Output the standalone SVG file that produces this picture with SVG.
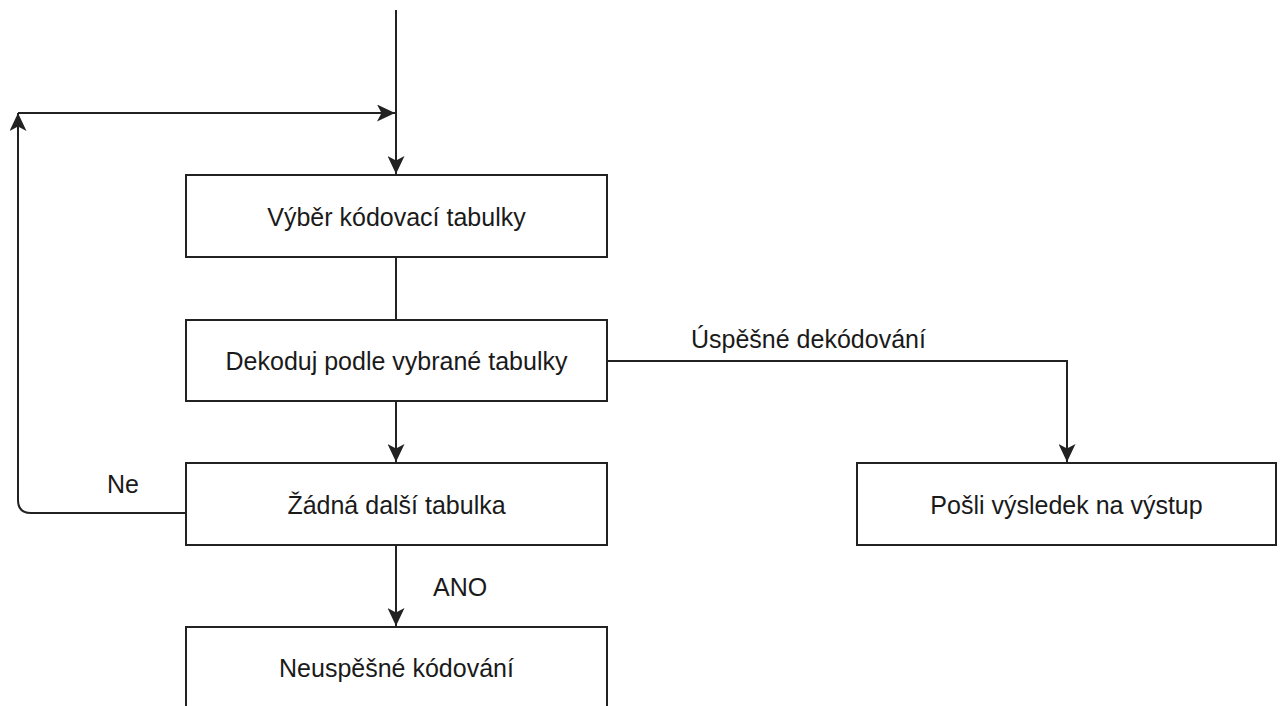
<svg xmlns="http://www.w3.org/2000/svg" width="1282" height="706" viewBox="0 0 1282 706">
<style>
.box{fill:#fff;stroke:#222;stroke-width:2}
.edge{fill:none;stroke:#222;stroke-width:2}
.t{font-family:"Liberation Sans",Arial,sans-serif;font-size:25px;fill:#1a1a1a;text-anchor:middle}
.l{font-family:"Liberation Sans",Arial,sans-serif;font-size:25px;fill:#1a1a1a}
</style>
<defs>
<marker id="arr" markerUnits="userSpaceOnUse" markerWidth="18" markerHeight="17" refX="18" refY="8.5" orient="auto">
<path d="M0,0 L18,8.5 L0,17 L4.5,8.5 Z" fill="#222"/>
</marker>
</defs>
<rect width="1282" height="706" fill="#fff"/>
<g id="connectors">
<path class="edge" d="M396,10 V174" marker-end="url(#arr)"/>
<path class="edge" d="M396,257 V320"/>
<path class="edge" d="M396,401 V462" marker-end="url(#arr)"/>
<path class="edge" d="M396,545 V626" marker-end="url(#arr)"/>
<path class="edge" d="M186,513 H31 Q18,513 18,500 V113" marker-end="url(#arr)"/>
<path class="edge" d="M18,113 H395" marker-end="url(#arr)"/>
<path class="edge" d="M607,361 H1067 V462" marker-end="url(#arr)"/>
<text class="l" x="107" y="493">Ne</text>
<text class="l" x="433" y="596">ANO</text>
<text class="l" x="691" y="348">Úspěšné dekódování</text>
</g>
<g id="n1"><rect class="box" x="186" y="175" width="421" height="82"/><text class="t" x="396.5" y="226">Výběr kódovací tabulky</text></g>
<g id="n2"><rect class="box" x="186" y="320" width="421" height="81"/><text class="t" x="396.5" y="370">Dekoduj podle vybrané tabulky</text></g>
<g id="n3"><rect class="box" x="186" y="463" width="421" height="82"/><text class="t" x="396.5" y="514">Žádná další tabulka</text></g>
<g id="n4"><rect class="box" x="186" y="627" width="421" height="90"/><text class="t" x="396.5" y="677">Neuspěšné kódování</text></g>
<g id="n5"><rect class="box" x="857" y="463" width="419" height="82"/><text class="t" x="1066.5" y="514">Pošli výsledek na výstup</text></g>
</svg>
